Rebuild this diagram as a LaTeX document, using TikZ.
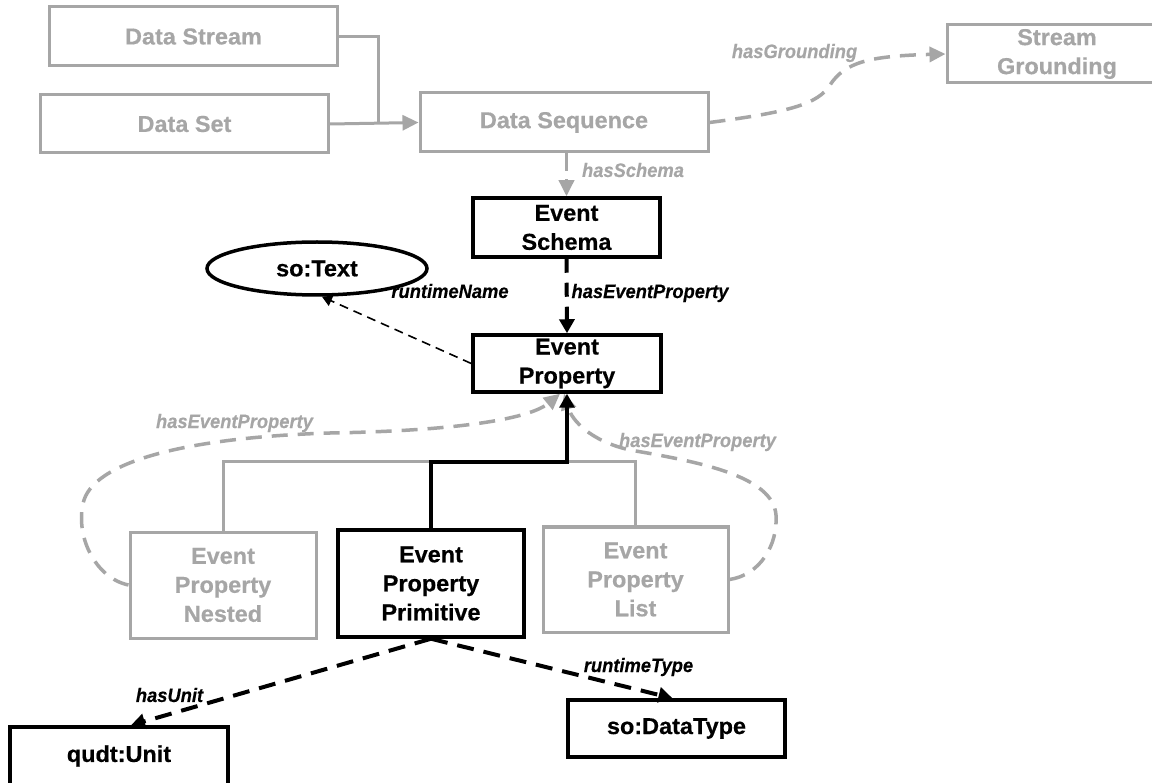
\documentclass[tikz,border=0pt]{standalone}
\usepackage{fontspec}
\setmainfont{Liberation Sans}
\newfontfamily\boxfont{Liberation Sans}[FakeStretch=1.02, FakeBold=0.5]
\newfontfamily\lblfont{Liberation Sans}[FakeStretch=0.94, FakeBold=0.3]
\usetikzlibrary{shapes.geometric,arrows.meta}
\definecolor{gc}{RGB}{166,166,166}
\tikzset{
  boxtext/.style={font=\boxfont\bfseries\fontsize{23}{29}\selectfont, align=center, inner sep=0pt},
  graybox/.style={boxtext, draw=gc, text=gc, line width=3pt},
  blackbox/.style={boxtext, draw=black, text=black, line width=3.5pt},
  lbl/.style={font=\lblfont\bfseries\itshape\fontsize{19.5}{23}\selectfont, inner sep=0pt},
  graylbl/.style={lbl, text=gc},
  grayline/.style={draw=gc, line width=3pt},
  graydash/.style={draw=gc, line width=3.5pt, dash pattern=on 16pt off 10pt},
  blackline/.style={draw=black, line width=3.5pt},
  blackdash/.style={draw=black, line width=4pt, dash pattern=on 17pt off 10pt},
  gtip/.style={-{Triangle[length=16pt,width=15pt]}},
  btip/.style={-{Triangle[length=14pt,width=15pt]}},
}
\begin{document}
\begin{tikzpicture}[x=1pt,y=-1pt]
\path[use as bounding box, clip] (0,0) rectangle (1152,783);
\fill[white] (0,0) rectangle (1152,783);
% nodes
\node[graybox, minimum width=288pt, minimum height=59pt] (dstream) at (193.5,36.5) {Data Stream};
\node[graybox, minimum width=288pt, minimum height=58pt] (dset) at (184.5,124) {Data Set};
\node[graybox, minimum width=288pt, minimum height=59pt] (dseq) at (564,122.5) {Data Sequence};
\node[graybox, minimum width=220pt, minimum height=58pt] (sg) at (1057,54) {Stream\\Grounding};
\node[blackbox, minimum width=187pt, minimum height=59pt] (es) at (566.5,227.5) {Event\\Schema};
\node[blackbox, ellipse, minimum width=220pt, minimum height=53pt] (sotext) at (317,268.5) {so:Text};
\node[blackbox, minimum width=188pt, minimum height=57pt] (ep) at (567,363.5) {Event\\Property};
\node[graybox, minimum width=186pt, minimum height=106pt] (nested) at (223,585) {Event\\Property\\Nested};
\node[blackbox, minimum width=186pt, minimum height=107pt] (prim) at (431,583.5) {Event\\Property\\Primitive};
\node[graybox, minimum width=185pt, minimum height=105pt] (list) at (635.5,579.5) {Event\\Property\\List};
\node[blackbox, minimum width=218pt, minimum height=58pt] (unit) at (119,756) {qudt:Unit};
\node[blackbox, minimum width=217pt, minimum height=57pt] (dtype) at (676.5,728.5) {so:DataType};
% top connectors
\coordinate (jn) at (378,123);
\draw[grayline] (dstream.east) -| (jn);
\draw[grayline, gtip] (dset.east) -- (dseq.west);
\draw[graydash, gtip] (dseq.east) .. controls (790,112) and (818,104) .. (830,85)
   .. controls (845,62) and (870,56) .. (sg.west);
\node[graylbl] (lgr) at (794.5,53) {hasGrounding};
\draw[graydash, dash pattern=on 18pt off 8pt, gtip] (es.north |- dseq.south) -- (es.north);
\node[graylbl] (lsc) at (633,170) {hasSchema};
% schema -> property
\draw[blackdash, dash pattern=on 14pt off 10pt, btip] (es.south) -- (ep.north);
\node[lbl] (lhep) at (650,293) {hasEventProperty};
% runtimeName
\draw[black, line width=1.6pt, dash pattern=on 9pt off 6pt, -{Triangle[length=10pt,width=11pt]}] (ep.west) -- (sotext.-80);
\node[lbl] (lrn) at (450,291) {runtimeName};
% subclass tree
\coordinate (bj) at (567,462);
\draw[grayline] (nested.north) |- (list.north |- bj) -- (list.north);
% loops
\draw[graydash, gtip] (nested.west) .. controls (95,578) and (74,535) .. (84,500)
   .. controls (98,458) and (200,437) .. (330,433)
   .. controls (450,431) and (528,420) .. ([xshift=-7pt]ep.south);
\node[graylbl] (lhl) at (234.5,423) {hasEventProperty};
\draw[graydash, gtip] (list.east) .. controls (760,575) and (778,545) .. (776,515)
   .. controls (773,476) and (700,462) .. (630,450)
   .. controls (590,441) and (572,420) .. ([xshift=-3pt]ep.south);
\node[graylbl] (lhr) at (697.5,442) {hasEventProperty};
\draw[blackline, btip] (prim.north) |- (bj) -- (ep.south);
% bottom
\draw[blackdash, btip] (prim.south) -- ([xshift=12pt]unit.north);
\node[lbl] (lhu) at (169.5,695) {hasUnit};
\draw[blackdash, btip] (prim.south) -- ([xshift=-4pt]dtype.north);
\node[lbl] (lrt) at (638.5,667) {runtimeType};
\end{tikzpicture}
\end{document}
